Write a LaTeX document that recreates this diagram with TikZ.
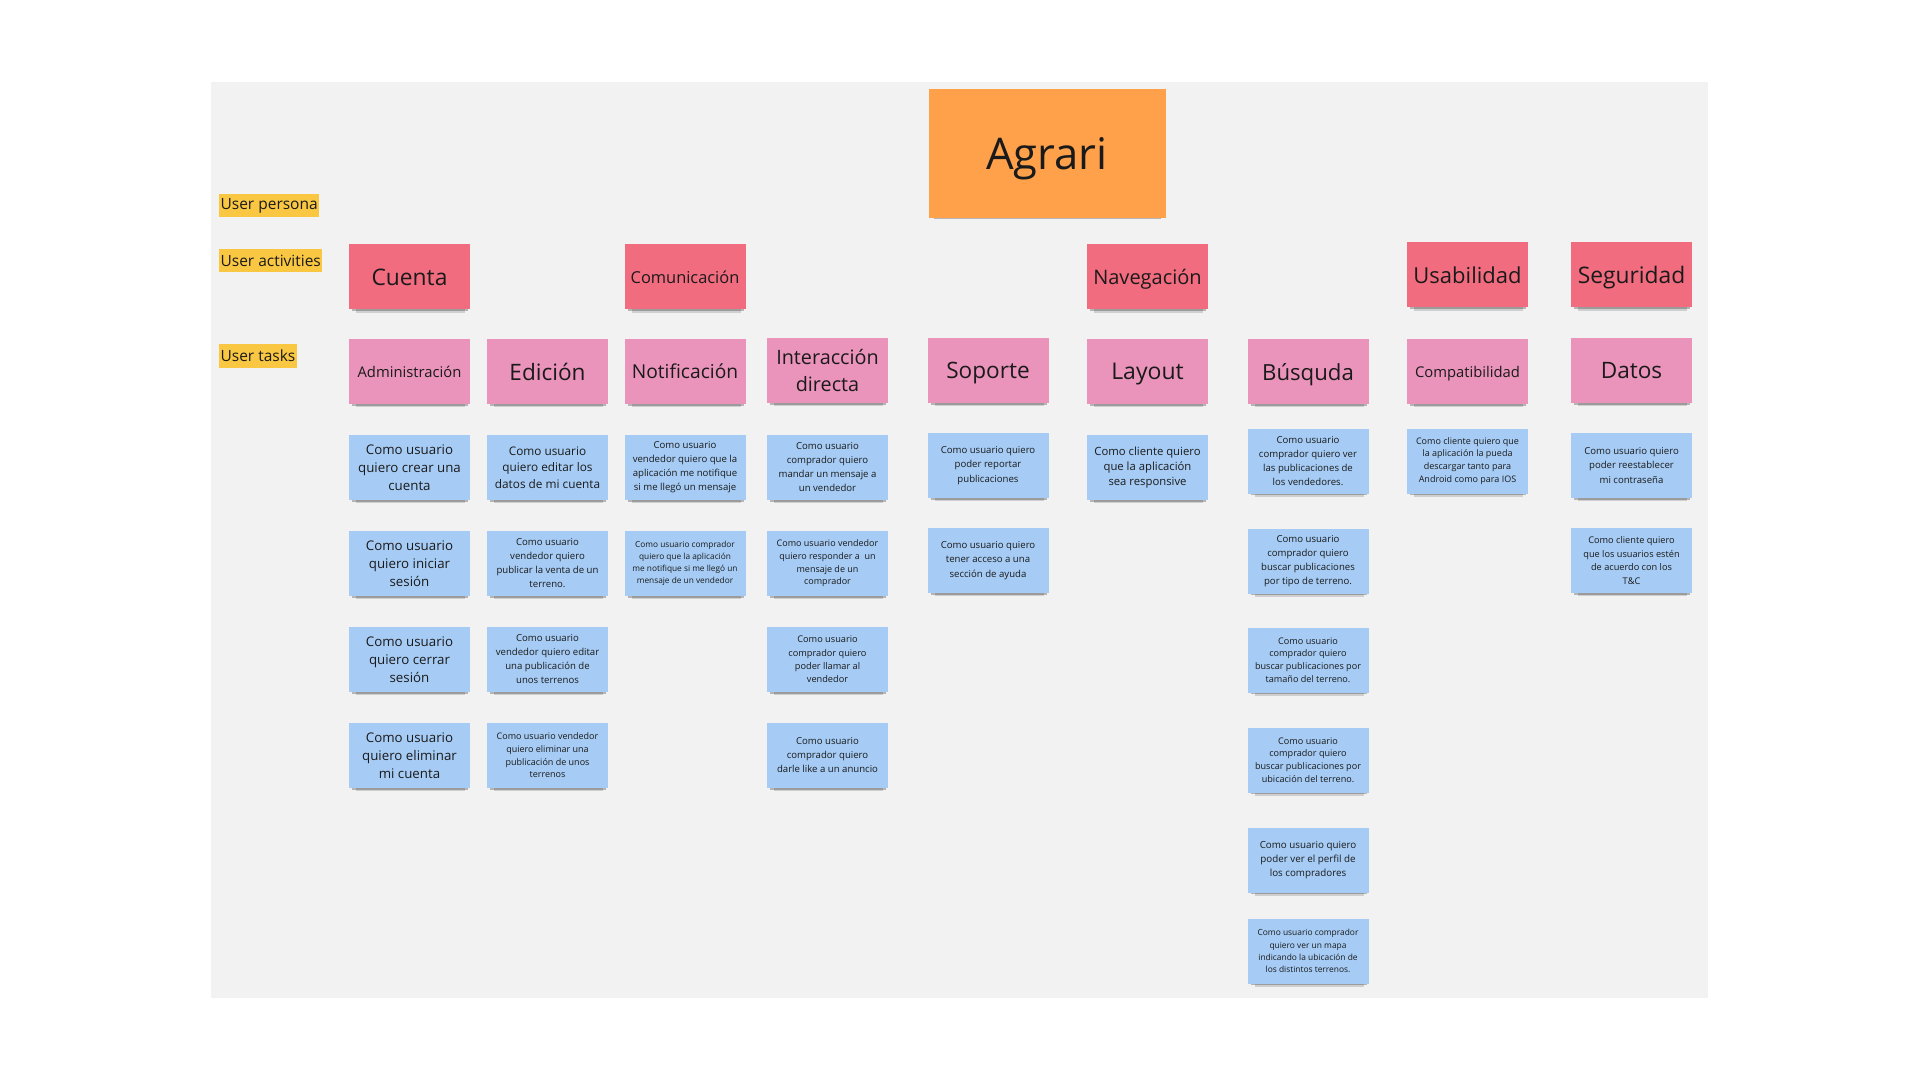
\documentclass[tikz,border=0pt]{standalone}
\usepackage{fontspec}
\setmainfont{Open Sans}
\usepackage{xcolor}
\usetikzlibrary{positioning,shadows}

\definecolor{boardgray}{HTML}{F2F2F2}
\definecolor{agrariorange}{HTML}{FFA04A}
\definecolor{activityred}{HTML}{F16C7F}
\definecolor{taskpink}{HTML}{EA94BB}
\definecolor{storyblue}{HTML}{A6CCF5}
\definecolor{laneyellow}{HTML}{FAC742}
\definecolor{inktext}{HTML}{1A1A1A}

\newcommand{\notesize}[2]{\fontsize{#1}{#2}\selectfont}

\begin{document}
\begin{tikzpicture}[
        x=0.5pt, y=-0.5pt, % one unit = one pixel of the board
        node distance=48pt,
        noteshadow/.style={
            drop shadow={shadow xshift=0.3pt, shadow yshift=-1.5pt, shadow scale=0.96, opacity=0.25, fill=black},
            drop shadow={shadow xshift=0.6pt, shadow yshift=-3.5pt, shadow scale=0.9, opacity=0.14, fill=black}
        },
        sticky/.style={
            rectangle,
            minimum width=60.5pt,
            minimum height=32.5pt,
            inner sep=1pt,
            align=center,
            text=inktext,
            noteshadow
        },
        activity/.style={
            sticky,
            fill=activityred,
            font=\notesize{11.4}{14}
        },
        task/.style={
            sticky,
            fill=taskpink,
            font=\notesize{11.3}{14}
        },
        story/.style={
            sticky,
            fill=storyblue,
            font=\notesize{4.8}{7} % most stories
        },
        lane/.style={
            anchor=west,
            fill=laneyellow,
            text=inktext,
            inner xsep=0.6pt,
            inner ysep=0pt,
            minimum height=11.5pt,
            font=\notesize{7.75}{10}
        }
    ]
        \useasboundingbox (0,0) rectangle (1920,1080);
        \fill[boardgray] (211,82) rectangle (1708,998);

        % lanes
        \node (persona) [lane] at (219,206) {User persona};
        \node (activities) [lane] at (219,261) {User activities};
        \node (tasks) [lane] at (219,356) {User tasks};

        % product
        \node (agrari) [sticky, fill=agrariorange, minimum width=118.5pt, minimum height=64.5pt,
            font=\notesize{21.8}{26}, text depth=0pt,
            drop shadow={shadow xshift=1pt, shadow yshift=-5pt, shadow scale=0.86, opacity=0.18, fill=black}]
            at (1047,154) {Agrari};

        % activities
        \node (cuenta) [activity] at (409.5,277) {Cuenta};
        \node (comunicacion) [activity, font=\notesize{8.2}{10}] at (685,277) {Comunicación};
        \node (navegacion) [activity, font=\notesize{10}{12}, text depth=0pt] at (1147.5,277) {Navegación};
        \node (usabilidad) [activity, font=\notesize{11}{13}] at (1467.5,275) {Usabilidad};
        \node (seguridad) [activity, text depth=0pt] at (1631.5,275) {Seguridad};

        % tasks
        \node (admin) [task, font=\notesize{7.4}{9}] at (409.5,371.5) {Administración};
        \node (edicion) [task] at (547.5,371.5) {Edición};
        \node (notificacion) [task, font=\notesize{9.6}{12}] at (685,371.5) {Notificación};
        \node (interaccion) [task, font=\notesize{9.9}{13.5}] at (827.5,370.5) {Interacción\\directa};
        \node (soporte) [task, text depth=0pt] at (988,370.5) {Soporte};
        \node (layout) [task, font=\notesize{11.5}{14}, text depth=0pt] at (1147.5,371.5) {Layout};
        \node (busqueda) [task, font=\notesize{11.1}{14}, text depth=0pt] at (1308,371.5) {Búsquda};
        \node (compat) [task, font=\notesize{7.4}{9}, text depth=0pt] at (1467.5,371.5) {Compatibilidad};
        \node (datos) [task] at (1631.5,370.5) {Datos};

        % stories: Administración
        \node (crear) [story, below of=admin, font=\notesize{6.65}{9.15}] {Como usuario\\quiero crear una\\cuenta};
        \node (iniciar) [story, below of=crear, font=\notesize{6.65}{9.15}] {Como usuario\\quiero iniciar\\sesión};
        \node (cerrar) [story, below of=iniciar, font=\notesize{6.65}{9.15}] {Como usuario\\quiero cerrar\\sesión};
        \node (eliminar) [story, below of=cerrar, font=\notesize{6.65}{9.15}] {Como usuario\\quiero eliminar\\mi cuenta};

        % stories: Edición
        \node (editar) [story, below of=edicion, font=\notesize{5.9}{8.35}] {Como usuario\\quiero editar los\\datos de mi cuenta};
        \node (publicar) [story, below of=editar] {Como usuario\\vendedor quiero\\publicar la venta de un\\terreno.};
        \node (editarpub) [story, below of=publicar] {Como usuario\\vendedor quiero editar\\una publicación de\\unos terrenos};
        \node (eliminarpub) [story, below of=editarpub, font=\notesize{4.5}{6.3}] {Como usuario vendedor\\quiero eliminar una\\publicación de unos\\terrenos};

        % stories: Notificación
        \node (notifvend) [story, below of=notificacion] {Como usuario\\vendedor quiero que la\\aplicación me notifique\\si me llegó un mensaje};
        \node (notifcomp) [story, below of=notifvend, font=\notesize{4.15}{5.9}] {Como usuario comprador\\quiero que la aplicación\\me notifique si me llegó un\\mensaje de un vendedor};

        % stories: Interacción directa
        \node (mandar) [story, below of=interaccion, node distance=48.5pt] {Como usuario\\comprador quiero\\mandar un mensaje a\\un vendedor};
        \node (responder) [story, below of=mandar, font=\notesize{4.5}{6.3}] {Como usuario vendedor\\quiero responder a~~un\\mensaje de un\\comprador};
        \node (llamar) [story, below of=responder, font=\notesize{4.6}{6.7}] {Como usuario\\comprador quiero\\poder llamar al\\vendedor};
        \node (like) [story, below of=llamar] {Como usuario\\comprador quiero\\darle like a un anuncio};

        % stories: Soporte
        \node (reportar) [story, below of=soporte, node distance=47.5pt, font=\notesize{4.8}{7.3}] {Como usuario quiero\\poder reportar\\publicaciones};
        \node (ayuda) [story, below of=reportar, node distance=47.5pt, font=\notesize{4.8}{7.3}] {Como usuario quiero\\tener acceso a una\\sección de ayuda};

        % stories: Layout
        \node (responsive) [story, below of=layout, font=\notesize{5.65}{7.65}] {Como cliente quiero\\que la aplicación\\sea responsive};

        % stories: Búsquda
        \node (verpubs) [story, below of=busqueda, node distance=44.75pt] {Como usuario\\comprador quiero ver\\las publicaciones de\\los vendedores.};
        \node (tipo) [story, below of=verpubs, node distance=50pt] {Como usuario\\comprador quiero\\buscar publicaciones\\por tipo de terreno.};
        \node (tamano) [story, below of=tipo, node distance=49.5pt, font=\notesize{4.55}{6.4}] {Como usuario\\comprador quiero\\buscar publicaciones por\\tamaño del terreno.};
        \node (ubicacion) [story, below of=tamano, node distance=50pt, font=\notesize{4.55}{6.4}] {Como usuario\\comprador quiero\\buscar publicaciones por\\ubicación del terreno.};
        \node (perfil) [story, below of=ubicacion, node distance=50pt, font=\notesize{4.9}{7}] {Como usuario quiero\\poder ver el perfil de\\los compradores};
        \node (mapa) [story, below of=perfil, node distance=45.5pt, font=\notesize{4.2}{6.1}] {Como usuario comprador\\quiero ver un mapa\\indicando la ubicación de\\los distintos terrenos.};

        % stories: Compatibilidad
        \node (descarga) [story, below of=compat, node distance=44.75pt, font=\notesize{4.5}{6.4}] {Como cliente quiero que\\la aplicación la pueda\\descargar tanto para\\Android como para IOS};

        % stories: Datos
        \node (reestablecer) [story, below of=datos, node distance=47.5pt, font=\notesize{4.8}{7.2}] {Como usuario quiero\\poder reestablecer\\mi contraseña};
        \node (terminos) [story, below of=reestablecer, node distance=47.5pt, font=\notesize{4.6}{6.7}] {Como cliente quiero\\que los usuarios estén\\de acuerdo con los\\T\&C};
    \end{tikzpicture}
\end{document}
